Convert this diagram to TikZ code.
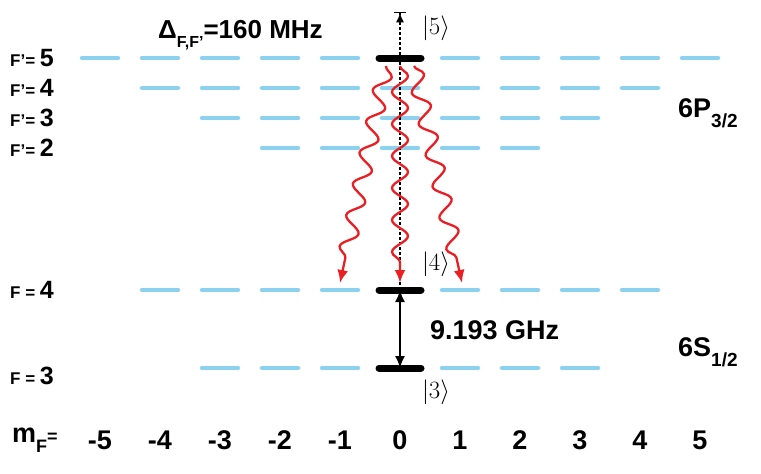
\documentclass[tikz,border=0pt]{standalone}
\usepackage{fontspec}
\setsansfont{Liberation Sans}
\usetikzlibrary{arrows.meta,decorations.pathmorphing}
\definecolor{lvlblue}{RGB}{140,210,240}
\definecolor{photon}{RGB}{235,30,35}
\newcommand{\fs}[1]{\fontsize{#1}{#1}\selectfont}
\begin{document}
\begin{tikzpicture}
		[x=1pt,y=-1pt,
		sub/.style={dash pattern=on 36pt off 24pt,lvlblue,line width=4.5pt,line cap=round},
		bar/.style={line width=7pt,line cap=round},
		lbl/.style={font=\sffamily\bfseries\fs{17},anchor=west,inner sep=0pt},
		big/.style={font=\sffamily\bfseries\fs{27},anchor=west,inner sep=0pt},
		ket/.style={font=\fs{24},inner sep=1pt},
		wave/.style={photon,line width=2.3pt,-{Latex[length=13pt,width=11pt]},
		decorate,decoration={snake,segment length=32pt,amplitude=8pt,post length=12pt}}]
		\useasboundingbox (0,0) rectangle (761,474);
		% sublevels, m_F = -k..k
		\foreach \k/\y in {5/58,4/88,3/118,2/148,4/290,3/368}
			\draw[sub] (400-60*\k-18,\y) -- (400+60*\k+20,\y);
		\foreach \y in {58,290,368}
			\draw[white,line width=7pt] (378,\y) -- (422,\y);
		% m_F = 0 states
		\coordinate (e5) at (400,58);
		\coordinate (g4) at (400,290);
		\coordinate (g3) at (400,368);
		\draw[bar] (379,58) -- (421,58);
		\draw[bar] (379,290) -- (421,290);
		\draw[bar] (379,368) -- (421,368);
		\coordinate (top) at (400,12);
		\draw[densely dashed,line width=1.3pt,-{Latex[length=9pt,width=8pt]Bar[width=12pt]}] (g4) -- (top);
		\draw[line width=1.8pt,{Latex[length=12pt,width=10pt]}-{Latex[length=12pt,width=10pt]}] (g4) -- (g3);
		% spontaneous emission
		\coordinate (s1) at (386,66);
		\coordinate (s2) at (400,66);
		\coordinate (s3) at (414,66);
		\coordinate (d1) at (340,283);
		\coordinate (d2) at (400,283);
		\coordinate (d3) at (462,283);
		\draw[wave] (s1) -- (d1);
		\draw[wave] (s2) -- (d2);
		\draw[wave] (s3) -- (d3);
		% kets
		\node[ket] (k5) at (436,28) {$|5\rangle$};
		\node[ket] (k4) at (436,264) {$|4\rangle$};
		\node[ket] (k3) at (436,392) {$|3\rangle$};
		% labels
		\node[big,font=\sffamily\bfseries\fs{26}] (delta) at (158,35) {Δ\raisebox{-0.7ex}{\fs{16}F,F’}=160 MHz};
		\node[lbl] (fp5) at (10,58) {F’= \fs{25}5};
		\node[lbl] (fp4) at (10,88) {F’= \fs{25}4};
		\node[lbl] (fp3) at (10,118) {F’= \fs{25}3};
		\node[lbl] (fp2) at (10,148) {F’= \fs{25}2};
		\node[lbl] (f4) at (10,290) {F = \fs{25}4};
		\node[lbl] (f3) at (10,376) {F = \fs{25}3};
		\node[big] (ghz) at (430,330) {9.193 GHz};
		\node[big] (p32) at (678,113) {6P\raisebox{-0.7ex}{\fs{19}3/2}};
		\node[big] (s12) at (678,352) {6S\raisebox{-0.7ex}{\fs{19}1/2}};
		\node[big] (mf) at (12,440) {m\raisebox{-0.7ex}{\fs{18}F}\fs{18}=};
		\foreach \m in {-5,...,5}
			\node[big,anchor=center] (m\m) at (400+60*\m,440) {\m};
	\end{tikzpicture}
\end{document}
